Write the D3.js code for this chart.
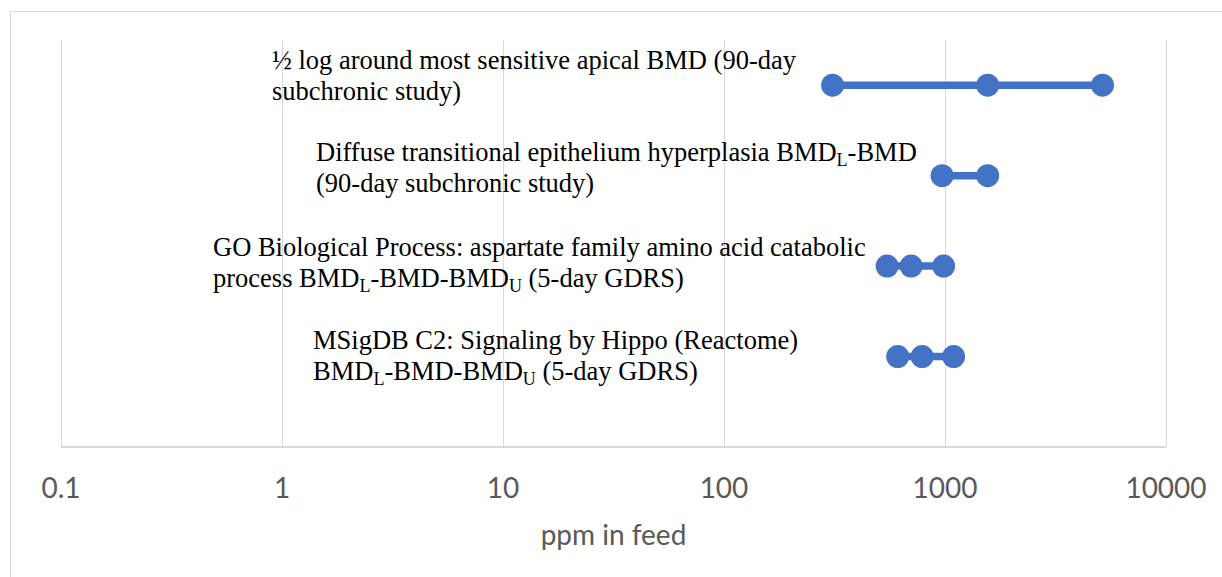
<!DOCTYPE html>
<html>
<head>
<meta charset="utf-8">
<script src="https://cdn.jsdelivr.net/npm/d3@7"></script>
<style>
  body { margin: 0; background: #fff; }
  svg { display: block; }
</style>
</head>
<body>
<svg id="chart"></svg>
<script>
var width = 1222,
    height = 577;

// rows, top to bottom (y value in chart units)
var rowY = [4, 3, 2, 1];
var labelLines = [
    ["\u00bd log around most sensitive apical BMD (90-day", "subchronic study)"],
    ["Diffuse transitional epithelium hyperplasia BMD_{L}-BMD", "(90-day subchronic study)"],
    ["GO Biological Process: aspartate family amino acid catabolic", "process BMD_{L}-BMD-BMD_{U} (5-day GDRS)"],
    ["MSigDB C2: Signaling by Hippo (Reactome)", "BMD_{L}-BMD-BMD_{U} (5-day GDRS)"]
];
var lowVals = [310, 970, 547, 611];
var midVals = [1560, 1560, 703, 788];
var highVals = [5160, null, 986, 1094];
var xTicks = [0.1, 1, 10, 100, 1000, 10000];
var xTickLabels = ["0.1", "1", "10", "100", "1000", "10000"];
var xTitle = "ppm in feed";

// label placement (pixel offsets), kept apart from the data
var labelX = [272, 316, 213, 313];
var labelDy = [-16, -15, -10, -8];

var svg = d3.select("#chart")
    .attr("width", width)
    .attr("height", height);

svg.append("rect")
    .attr("x", 10.5)
    .attr("y", 11.5)
    .attr("width", 1300)
    .attr("height", 700)
    .attr("fill", "none")
    .attr("stroke", "#d9d9d9");

var x = d3.scaleLog()
    .domain([0.1, 10000])
    .range([61, 1166]);

var y = d3.scaleLinear()
    .domain([0, 4.5])
    .range([447, 40]);

// gridlines
svg.append("g")
    .selectAll("line")
    .data(xTicks)
    .enter().append("line")
    .attr("x1", function (d) { return Math.round(x(d)) + 0.5; })
    .attr("x2", function (d) { return Math.round(x(d)) + 0.5; })
    .attr("y1", y(4.5))
    .attr("y2", y(0))
    .attr("stroke", "#d9d9d9")
    .attr("stroke-width", 1);

// bottom axis line
svg.append("line")
    .attr("x1", x(0.1))
    .attr("x2", x(10000))
    .attr("y1", y(0))
    .attr("y2", y(0))
    .attr("stroke", "#cccccc")
    .attr("stroke-width", 1.5);

// tick labels
svg.append("g")
    .selectAll("text")
    .data(xTicks)
    .enter().append("text")
    .attr("x", function (d) { return x(d); })
    .attr("y", 498)
    .attr("text-anchor", "middle")
    .attr("font-family", "Lato, 'Open Sans', sans-serif")
    .attr("font-size", 28)
    .attr("fill", "#595959")
    .text(function (d, i) { return xTickLabels[i]; });

svg.append("text")
    .attr("x", (x(0.1) + x(10000)) / 2)
    .attr("y", 545)
    .attr("text-anchor", "middle")
    .attr("font-family", "Lato, 'Open Sans', sans-serif")
    .attr("font-size", 28)
    .attr("fill", "#595959")
    .text(xTitle);

// series: segments + dots
var blue = "#4472c4";
rowY.forEach(function (r, i) {
    var vals = [lowVals[i], midVals[i], highVals[i]].filter(function (v) { return v != null; });
    var g = svg.append("g");
    g.append("line")
        .attr("x1", x(d3.min(vals)))
        .attr("x2", x(d3.max(vals)))
        .attr("y1", y(r))
        .attr("y2", y(r))
        .attr("stroke", blue)
        .attr("stroke-width", 7.5);
    g.selectAll("circle")
        .data(vals)
        .enter().append("circle")
        .attr("cx", function (d) { return x(d); })
        .attr("cy", y(r))
        .attr("r", 11.5)
        .attr("fill", blue);
});

// labels with subscripts
function addLine(textEl, str, xPos, yPos) {
    var parts = str.split(/(_\{[^}]*\})/).filter(function (p) { return p; });
    var shift = 0, first = true;
    parts.forEach(function (p) {
        var m = p.match(/^_\{([^}]*)\}$/);
        var t = textEl.append("tspan");
        if (first) { t.attr("x", xPos).attr("y", m ? yPos + 5 : yPos); first = false; }
        if (m) {
            t.attr("font-size", 18).text(m[1]);
            if (t.attr("y") == null) t.attr("dy", 5);
            shift = -5;
        } else {
            if (shift) t.attr("dy", shift);
            shift = 0;
            t.text(p);
        }
    });
}

rowY.forEach(function (r, i) {
    var txt = svg.append("text")
        .attr("font-family", "'Liberation Serif', 'Times New Roman', serif")
        .attr("font-size", 26.5)
        .attr("fill", "#000");
    labelLines[i].forEach(function (line, j) {
        addLine(txt, line, labelX[i], y(r) + labelDy[i] + j * 31);
    });
});
</script>
</body>
</html>
